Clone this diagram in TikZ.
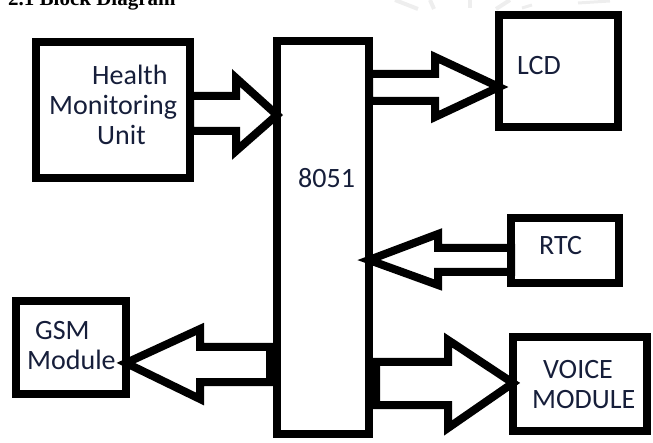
\documentclass[tikz,border=0pt]{standalone}
\usepackage{fontspec}
\setmainfont{Carlito}
\newfontfamily\titlefont{Liberation Serif}
\begin{document}
\begin{tikzpicture}[x=1pt,y=-1pt,
  blk/.style={draw=black,line width=8.5pt,minimum width=#1,inner sep=0pt,outer sep=0pt},
  lbl/.style={anchor=base west,inner sep=0pt,text=txtcol,font=\fontsize{28}{30}\selectfont},
  barrow/.style={draw=black,fill=white,line width=8pt,line join=miter}]
\definecolor{txtcol}{RGB}{22,30,58}
\definecolor{wm}{RGB}{238,238,238}
\useasboundingbox (0,0) rectangle (653,443);
% watermark
\draw[wm,line width=4pt] (395,0) -- (418,9);
\draw[wm,line width=4pt] (430,0) -- (434,9);
\draw[wm,line width=4pt] (470,0) -- (470,8);
\draw[wm,line width=4pt] (510,0) -- (496,9);
\draw[wm,line width=3pt] (522,8) -- (532,5);
\draw[wm,line width=3pt] (578,3) -- (610,1);
% title
\node[anchor=base west,inner sep=0pt,font=\titlefont\bfseries\fontsize{21}{24}\selectfont] (title) at (8,6) {2.1 Block Diagram};
% boxes
\node[blk=154pt,minimum height=136pt] (hmu) at (113,110) {};
\node[blk=92pt,minimum height=393pt] (mcu) at (323,237.5) {};
\node[blk=119pt,minimum height=112pt] (lcd) at (558.5,71) {};
\node[blk=108pt,minimum height=65pt] (rtc) at (565,250.5) {};
\node[blk=134pt,minimum height=94pt] (voice) at (580,384) {};
\node[blk=110pt,minimum height=93pt] (gsm) at (71,347.5) {};
% arrows
\draw[barrow] (hmu.east |- 0,96) -- (236,96) -- (236,78) -- (mcu.west |- 0,115) -- (236,151) -- (236,131) -- (hmu.east |- 0,131) -- cycle;
\draw[barrow] (mcu.east |- 0,74) -- (435,74) -- (435,57) -- (lcd.west |- 0,87) -- (435,117) -- (435,101) -- (mcu.east |- 0,101) -- cycle;
\draw[barrow] (rtc.west |- 0,248) -- (438,248) -- (438,234) -- (mcu.east |- 0,260) -- (438,285) -- (438,272) -- (rtc.west |- 0,272) -- cycle;
\draw[barrow] (376,362) -- (448,362) -- (448,340) -- (voice.west |- 0,383) -- (448,428) -- (448,405) -- (376,405) -- cycle;
\draw[barrow] (270,347) -- (200,347) -- (200,329) -- (gsm.east |- 0,363) -- (200,399) -- (200,382) -- (270,382) -- cycle;
% labels
\node[lbl] (t1) at (92,85) {Health};
\node[lbl] (t2) at (49,115) {Monitoring};
\node[lbl] (t3) at (97,145) {Unit};
\node[lbl] (t4) at (298,188) {8051};
\node[lbl] (t5) at (517,75) {LCD};
\node[lbl] (t6) at (539,255) {RTC};
\node[lbl] (t7) at (543,378) {VOICE};
\node[lbl] (t8) at (532,408) {MODULE};
\node[lbl] (t9) at (35,340) {GSM};
\node[lbl] (t10) at (27,370) {Module};
\end{tikzpicture}
\end{document}
